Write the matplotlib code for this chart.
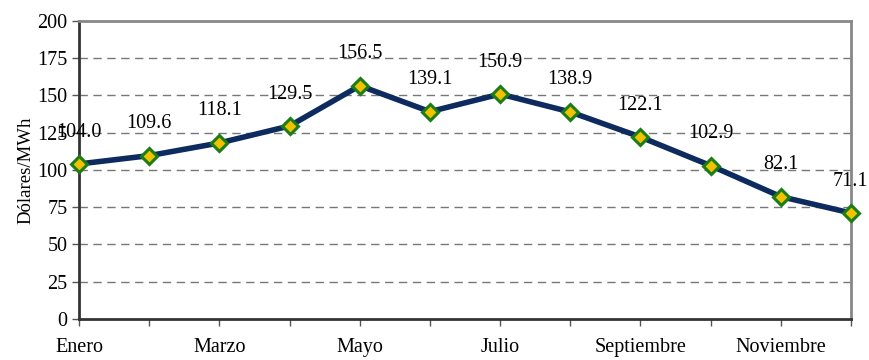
import matplotlib.pyplot as plt

months = ['Enero', 'Febrero', 'Marzo', 'Abril', 'Mayo', 'Junio', 'Julio',
          'Agosto', 'Septiembre', 'Octubre', 'Noviembre', 'Diciembre']
precios = [104.0, 109.6, 118.1, 129.5, 156.5, 139.1, 150.9, 138.9, 122.1, 102.9, 82.1, 71.1]
yticks = [0, 25, 50, 75, 100, 125, 150, 175, 200]

plt.rcParams['font.family'] = ['Liberation Serif', 'DejaVu Serif']

fig = plt.figure(figsize=(8.7, 3.6), dpi=100)
ax = fig.add_axes([0.091, 0.114, 0.887, 0.828])

x = list(range(len(months)))
ax.plot(x, precios, color='#0d2b5e', lw=4, marker='D', markersize=8,
        markerfacecolor='#f2c200', markeredgecolor='#1b7d16', markeredgewidth=2.2,
        zorder=3, clip_on=False)

for xi, v in zip(x, precios):
    ax.annotate(f'{v:.1f}', (xi, v), xytext=(0, 23), textcoords='offset points',
                ha='center', va='center', fontsize=14.5)

ax.set_xlim(0, len(months) - 1)
ax.set_ylim(0, 200)
ax.set_yticks(yticks)
ax.set_xticks(x)
ax.set_xticklabels([m if i % 2 == 0 else '' for i, m in enumerate(months)])
ax.tick_params(axis='both', labelsize=14.5, length=5, width=1, color='#555555', direction='out')
ax.tick_params(axis='x', pad=9)
ax.set_ylabel('Dólares/MWh', fontsize=13.5, labelpad=2)

for y in yticks[1:-1]:
    ax.axhline(y, color='#777777', lw=1, ls=(0, (6, 4)), zorder=1)

for side in ['left', 'bottom']:
    ax.spines[side].set_color('#333333')
    ax.spines[side].set_linewidth(2)
for side in ['top', 'right']:
    ax.spines[side].set_color('#888888')
    ax.spines[side].set_linewidth(2)

fig.savefig('out.png', dpi=100)
